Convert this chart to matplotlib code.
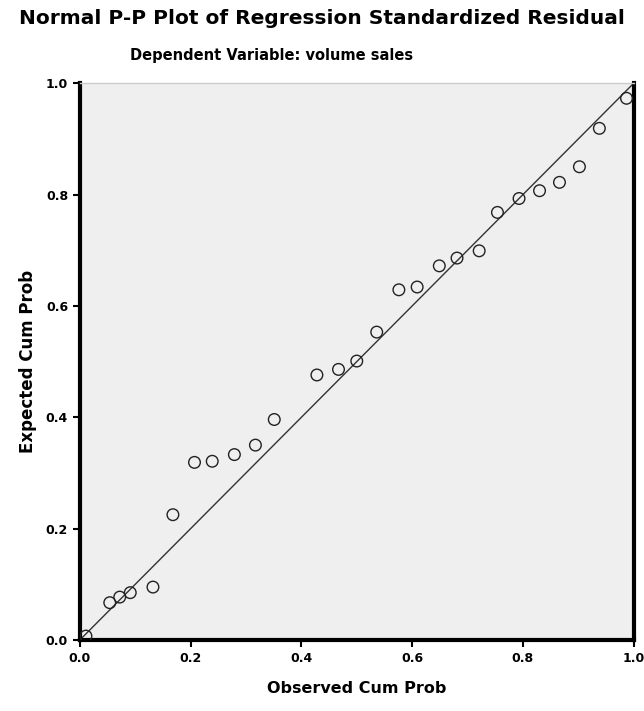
import numpy as np
import matplotlib as mpl
mpl.use('Agg')
import matplotlib.pyplot as plt

title = 'Normal P-P Plot of Regression Standardized Residual'
subtitle = 'Dependent Variable: volume sales'
xlabel = 'Observed Cum Prob'
ylabel = 'Expected Cum Prob'
ticks = [0.0, 0.2, 0.4, 0.6, 0.8, 1.0]
ticklabels = ['0.0', '0.2', '0.4', '0.6', '0.8', '1.0']

# observed / expected cumulative probability
obs = [0.011, 0.054, 0.072, 0.091, 0.132, 0.168, 0.207, 0.239, 0.279, 0.317,
       0.351, 0.428, 0.467, 0.500, 0.536, 0.576, 0.609, 0.649, 0.681, 0.721,
       0.754, 0.793, 0.830, 0.866, 0.902, 0.938, 0.987]
exp = [0.007, 0.067, 0.077, 0.085, 0.095, 0.225, 0.319, 0.321, 0.333, 0.350,
       0.396, 0.476, 0.486, 0.501, 0.553, 0.629, 0.634, 0.672, 0.686, 0.699,
       0.768, 0.793, 0.807, 0.822, 0.850, 0.919, 0.973]

fig = plt.figure(figsize=(6.44, 7.11), dpi=100)
ax = fig.add_axes([0.124, 0.0999, 0.86, 0.783])
ax.set_facecolor('#efefef')

ax.plot([0, 1], [0, 1], color='#333333', lw=1.0, zorder=2)
ax.scatter(obs, exp, s=70, facecolors='none', edgecolors='#222222', lw=1.0, zorder=3)

ax.set_xlim(0, 1)
ax.set_ylim(0, 1)
ax.set_xticks(ticks)
ax.set_xticklabels(ticklabels, fontsize=9, fontweight='bold')
ax.set_yticks(ticks)
ax.set_yticklabels(ticklabels, fontsize=9, fontweight='bold')
ax.tick_params(direction='out', length=5, width=1.5)

for s in ['left', 'bottom', 'right']:
    ax.spines[s].set_linewidth(3)
    ax.spines[s].set_color('black')
ax.spines['top'].set_color('#cccccc')
ax.spines['top'].set_linewidth(1)

ax.set_xlabel(xlabel, fontsize=11.5, fontweight='bold', labelpad=12)
ax.set_ylabel(ylabel, fontsize=12, fontweight='bold', labelpad=6)

fig.text(0.5, 0.974, title, ha='center', va='center', fontsize=14.5, fontweight='bold')
fig.text(130 / 644, 0.922, subtitle, ha='left', va='center', fontsize=10.5, fontweight='bold')

plt.savefig('out.png', dpi=100)
